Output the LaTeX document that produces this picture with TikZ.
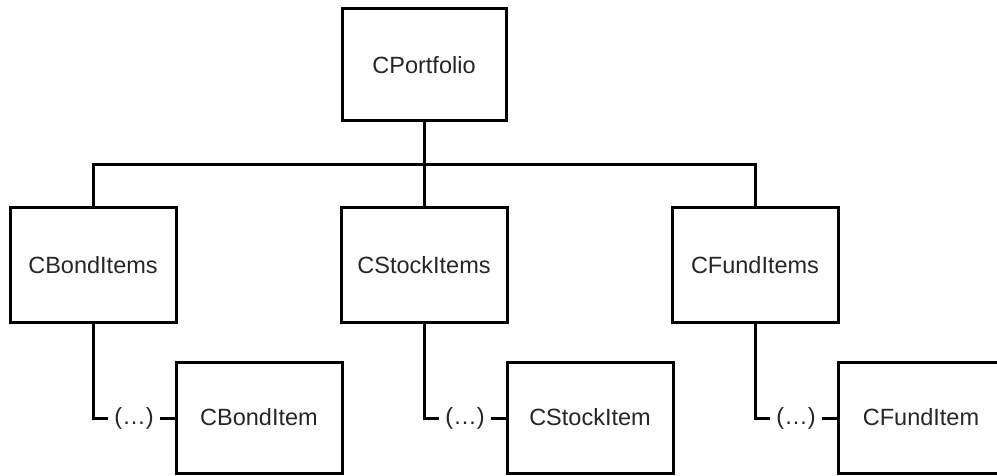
\documentclass[tikz,border=0pt]{standalone}
\usepackage{fontspec}
\setmainfont{Liberation Sans}
\begin{document}
\begin{tikzpicture}[x=1pt,y=-1pt,
  line width=3pt,
  box/.style={draw, fill=white, rectangle, inner sep=0pt,
    minimum width=166pt, minimum height=114pt,
    font=\fontsize{23.5}{28}\selectfont, text=black!85},
  topbox/.style={box, minimum width=164pt, minimum height=112pt},
  itembox/.style={box, minimum height=111pt},
  dots/.style={inner sep=0pt, inner xsep=5pt, minimum height=20pt,
    font=\fontsize{23.5}{28}\selectfont, text=black!85}]
  \clip (0,0) rectangle (997,476);
  \fill[white] (0,0) rectangle (997,476);

  % root of the hierarchy
  \node[topbox] (port) at (424,65) {CPortfolio};

  % collection classes
  \node[box] (bonds)  at (93,265)  {CBondItems};
  \node[box] (stocks) at (424,265) {CStockItems};
  \node[box] (funds)  at (755,265) {CFundItems};

  % element classes
  \node[itembox] (bond)  at (259,417.5) {CBondItem};
  \node[itembox] (stock) at (590,417.5) {CStockItem};
  \node[itembox] (fund)  at (921,417.5) {CFundItem};

  % "(...)" markers for the many elements of each collection
  \node[dots] (bdots) at (134,418.5) {(…)};
  \node[dots] (sdots) at (465,418.5) {(…)};
  \node[dots] (fdots) at (796,418.5) {(…)};

  % bus connecting the root to the collections
  \coordinate (bus) at (424,165);
  \draw (port.south) -- (port.south |- bus);
  \draw (bonds.north) |- (bus) -| (funds.north);
  \draw (stocks.north) -- (stocks.north |- bus);

  % collections to their elements
  \draw (bonds.south)  |- (bdots.west);
  \draw (stocks.south) |- (sdots.west);
  \draw (funds.south)  |- (fdots.west);
  \draw (bdots.east) -- (bdots.east -| bond.west);
  \draw (sdots.east) -- (sdots.east -| stock.west);
  \draw (fdots.east) -- (fdots.east -| fund.west);
\end{tikzpicture}
\end{document}
